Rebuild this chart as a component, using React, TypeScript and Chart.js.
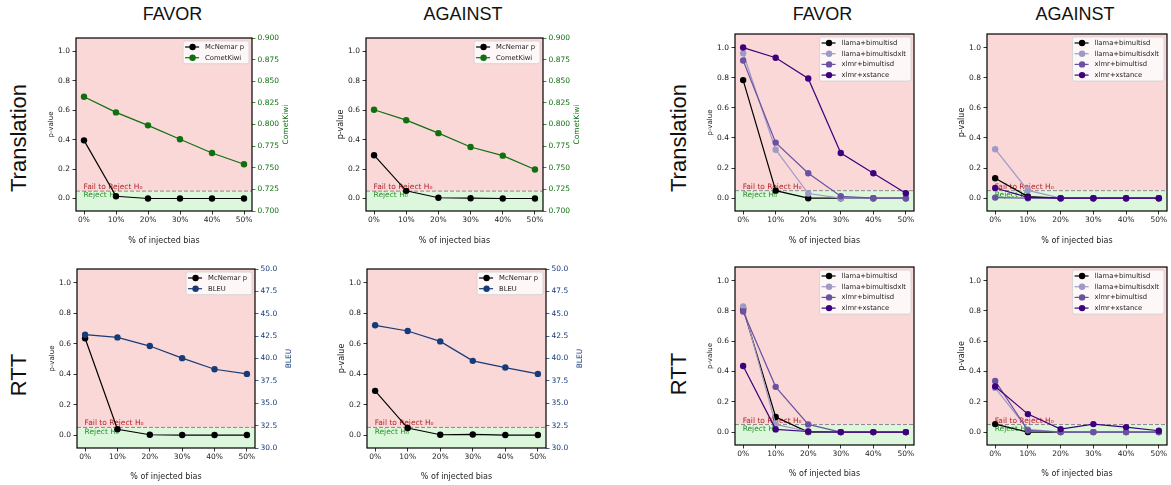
import React, { useEffect, useRef } from 'react';
import { Chart, registerables } from 'chart.js';

Chart.register(...registerables);

// ---------- data ----------
const xPercent = [0, 10, 20, 30, 40, 50];
const pTicks = [0, 0.2, 0.4, 0.6, 0.8, 1.0];
const cometTicks = [0.7, 0.725, 0.75, 0.775, 0.8, 0.825, 0.85, 0.875, 0.9];
const bleuTicks = [30, 32.5, 35, 37.5, 40, 42.5, 45, 47.5, 50];

// Translation (left block)
const trFavorMcNemar = [0.395, 0.015, 0.0, 0.0, 0.0, 0.0];
const trFavorComet = [0.832, 0.814, 0.799, 0.783, 0.767, 0.754];
const trAgainstMcNemar = [0.294, 0.052, 0.005, 0.002, 0.0, 0.0];
const trAgainstComet = [0.817, 0.805, 0.79, 0.774, 0.764, 0.748];

// RTT (left block)
const rttFavorMcNemar = [0.635, 0.038, 0.002, 0.0, 0.0, 0.0];
const rttFavorBleu = [42.66, 42.36, 41.39, 40.04, 38.8, 38.28];
const rttAgainstMcNemar = [0.29, 0.046, 0.002, 0.004, 0.0, 0.0];
const rttAgainstBleu = [43.71, 43.07, 41.91, 39.74, 38.99, 38.28];

// Model comparison (right block)
const modelNames = ['llama+bimultisd', 'llama+bimultisdxlt', 'xlmr+bimultisd', 'xlmr+xstance'];

const trFavorLlama = [0.784, 0.05, 0.0, 0.0, 0.0, 0.0];
const trFavorLlamaXlt = [0.962, 0.322, 0.031, 0.0, 0.0, 0.0];
const trFavorXlmr = [0.914, 0.369, 0.166, 0.013, 0.0, 0.0];
const trFavorXstance = [1.0, 0.932, 0.795, 0.3, 0.166, 0.033];

const trAgainstLlama = [0.132, 0.011, 0.0, 0.0, 0.0, 0.0];
const trAgainstLlamaXlt = [0.325, 0.052, 0.0, 0.0, 0.0, 0.0];
const trAgainstXlmr = [0.004, 0.0, 0.0, 0.0, 0.0, 0.0];
const trAgainstXstance = [0.068, 0.005, 0.0, 0.0, 0.0, 0.0];

const rttFavorLlama = [0.815, 0.1, 0.0, 0.0, 0.0, 0.0];
const rttFavorLlamaXlt = [0.83, 0.051, 0.004, 0.0, 0.0, 0.0];
const rttFavorXlmr = [0.796, 0.299, 0.051, 0.0, 0.0, 0.0];
const rttFavorXstance = [0.436, 0.018, 0.004, 0.0, 0.0, 0.0];

const rttAgainstLlama = [0.053, 0.0, 0.0, 0.0, 0.0, 0.0];
const rttAgainstLlamaXlt = [0.292, 0.018, 0.0, 0.0, 0.0, 0.0];
const rttAgainstXlmr = [0.338, 0.011, 0.0, 0.0, 0.0, 0.0];
const rttAgainstXstance = [0.301, 0.119, 0.02, 0.053, 0.033, 0.009];

const THRESHOLD = 0.05;

// ---------- styles ----------
const BLACK = '#000000';
const COMET_COLOR = '#0f700f';
const BLEU_COLOR = '#173b78';
const MODEL_COLORS = ['#000000', '#9e9ac8', '#6a51a3', '#3f007d'];
const PINK = 'rgb(249,216,215)';
const GREEN_BAND = 'rgb(221,247,221)';
const FONT = 'DejaVu Sans';
const Y_MIN = -0.085;
const Y_MAX = 1.09;

type Series = { label: string; values: number[]; color: string; twin?: boolean };
type Twin = { title: string; min: number; max: number; ticks: number[]; decimals: number; color: string };
type Panel = {
  key: string;
  left: number;
  top: number;
  right: number;
  bottom: number;
  series: Series[];
  twin?: Twin;
  pTitleSize: number;
  xTitleGap: number;
};

const cometTwin: Twin = { title: 'CometKiwi', min: 0.7, max: 0.9, ticks: cometTicks, decimals: 3, color: COMET_COLOR };
const bleuTwin: Twin = { title: 'BLEU', min: 30, max: 50, ticks: bleuTicks, decimals: 1, color: BLEU_COLOR };

const modelSeries = (vals: number[][]): Series[] =>
  vals.map((v, i) => ({ label: modelNames[i], values: v, color: MODEL_COLORS[i] }));

const PANELS: Panel[] = [
  {
    key: 'trFavor', left: 76, top: 38, right: 252, bottom: 211, pTitleSize: 7, xTitleGap: 30,
    series: [
      { label: 'McNemar p', values: trFavorMcNemar, color: BLACK },
      { label: 'CometKiwi', values: trFavorComet, color: COMET_COLOR, twin: true },
    ],
    twin: cometTwin,
  },
  {
    key: 'trAgainst', left: 366, top: 38, right: 543, bottom: 211, pTitleSize: 8, xTitleGap: 30,
    series: [
      { label: 'McNemar p', values: trAgainstMcNemar, color: BLACK },
      { label: 'CometKiwi', values: trAgainstComet, color: COMET_COLOR, twin: true },
    ],
    twin: cometTwin,
  },
  {
    key: 'trFavorModels', left: 735, top: 34, right: 914, bottom: 211, pTitleSize: 7, xTitleGap: 30,
    series: modelSeries([trFavorLlama, trFavorLlamaXlt, trFavorXlmr, trFavorXstance]),
  },
  {
    key: 'trAgainstModels', left: 987, top: 34, right: 1167, bottom: 211, pTitleSize: 8, xTitleGap: 30,
    series: modelSeries([trAgainstLlama, trAgainstLlamaXlt, trAgainstXlmr, trAgainstXstance]),
  },
  {
    key: 'rttFavor', left: 77, top: 269, right: 255, bottom: 448, pTitleSize: 7, xTitleGap: 29,
    series: [
      { label: 'McNemar p', values: rttFavorMcNemar, color: BLACK },
      { label: 'BLEU', values: rttFavorBleu, color: BLEU_COLOR, twin: true },
    ],
    twin: bleuTwin,
  },
  {
    key: 'rttAgainst', left: 367, top: 269, right: 546, bottom: 448, pTitleSize: 8, xTitleGap: 29,
    series: [
      { label: 'McNemar p', values: rttAgainstMcNemar, color: BLACK },
      { label: 'BLEU', values: rttAgainstBleu, color: BLEU_COLOR, twin: true },
    ],
    twin: bleuTwin,
  },
  {
    key: 'rttFavorModels', left: 735, top: 267, right: 914, bottom: 445, pTitleSize: 7, xTitleGap: 29,
    series: modelSeries([rttFavorLlama, rttFavorLlamaXlt, rttFavorXlmr, rttFavorXstance]),
  },
  {
    key: 'rttAgainstModels', left: 987, top: 267, right: 1167, bottom: 445, pTitleSize: 8, xTitleGap: 29,
    series: modelSeries([rttAgainstLlama, rttAgainstLlamaXlt, rttAgainstXlmr, rttAgainstXstance]),
  },
];

type Label = { text: string; x: number; y: number; size: number; rotate: boolean };
const LABELS: Label[] = [
  { text: 'FAVOR', x: 172.5, y: 13.5, size: 18, rotate: false },
  { text: 'AGAINST', x: 463, y: 13.5, size: 18, rotate: false },
  { text: 'FAVOR', x: 822.5, y: 13.5, size: 18, rotate: false },
  { text: 'AGAINST', x: 1075, y: 13.5, size: 18, rotate: false },
  { text: 'Translation', x: 18.5, y: 137.5, size: 22, rotate: true },
  { text: 'RTT', x: 18.5, y: 375, size: 22, rotate: true },
  { text: 'Translation', x: 678.5, y: 137.5, size: 22, rotate: true },
  { text: 'RTT', x: 678.5, y: 374, size: 22, rotate: true },
];

function geometry(p: Panel) {
  const WL = p.pTitleSize >= 8 ? 30 : 29;
  const WR = p.twin ? 40 : 0;
  const padR = p.twin ? 0 : 3;
  const padTop = 8;
  const HX = p.xTitleGap + 4.8;
  const plotW = p.right - p.left;
  const plotH = p.bottom - p.top;
  const w = WL + plotW + WR + padR;
  const rawH = padTop + plotH + HX;
  const h = Math.ceil(rawH);
  return { WL, WR, padR, padTop, HX, w, h, padBottom: h - rawH, x: p.left - WL, y: p.top - padTop };
}

function roundRect(ctx: CanvasRenderingContext2D, x: number, y: number, w: number, h: number, r: number) {
  ctx.beginPath();
  ctx.moveTo(x + r, y);
  ctx.lineTo(x + w - r, y);
  ctx.arcTo(x + w, y, x + w, y + r, r);
  ctx.lineTo(x + w, y + h - r);
  ctx.arcTo(x + w, y + h, x + w - r, y + h, r);
  ctx.lineTo(x + r, y + h);
  ctx.arcTo(x, y + h, x, y + h - r, r);
  ctx.lineTo(x, y + r);
  ctx.arcTo(x, y, x + r, y, r);
  ctx.closePath();
}

function buildConfig(p: Panel, g: ReturnType<typeof geometry>): any {
  const n = p.series.length;
  const datasets = p.series.map((s, i) => ({
    label: s.label,
    data: xPercent.map((x, k) => ({ x, y: s.values[k] })),
    borderColor: s.color,
    backgroundColor: s.color,
    pointBackgroundColor: s.color,
    pointBorderColor: s.color,
    pointBorderWidth: 0,
    pointRadius: 3.2,
    borderWidth: 1.2,
    tension: 0,
    yAxisID: s.twin ? 'y2' : 'y',
    order: n - i,
  }));

  const tickFont = { family: FONT, size: 7.5 };
  const gridOpts = (color: string) => ({
    display: true,
    drawOnChartArea: false,
    drawTicks: true,
    tickLength: 3.5,
    color,
    lineWidth: 0.8,
  });

  const scales: any = {
    x: {
      type: 'linear',
      min: -2.5,
      max: 52.5,
      afterBuildTicks: (s: any) => {
        s.ticks = xPercent.map((v) => ({ value: v }));
      },
      afterFit: (s: any) => {
        s.height = g.HX;
      },
      ticks: {
        callback: (v: any) => `${v}%`,
        font: tickFont,
        color: '#222',
        padding: 1,
        autoSkip: false,
        maxRotation: 0,
      },
      grid: gridOpts('#000'),
      border: { display: false },
      title: { display: true, text: '% of injected bias', font: { family: FONT, size: 8 }, color: '#222', padding: 0 },
    },
    y: {
      type: 'linear',
      position: 'left',
      min: Y_MIN,
      max: Y_MAX,
      afterBuildTicks: (s: any) => {
        s.ticks = pTicks.map((v) => ({ value: v }));
      },
      afterFit: (s: any) => {
        s.width = g.WL;
      },
      ticks: {
        callback: (v: any) => Number(v).toFixed(1),
        font: tickFont,
        color: '#222',
        padding: 2.5,
        autoSkip: false,
      },
      grid: gridOpts('#000'),
      border: { display: false },
      title: { display: true, text: 'p-value', font: { family: FONT, size: p.pTitleSize }, color: '#222', padding: 0 },
    },
  };

  if (p.twin) {
    const t = p.twin;
    scales.y2 = {
      type: 'linear',
      position: 'right',
      min: t.min,
      max: t.max,
      afterBuildTicks: (s: any) => {
        s.ticks = t.ticks.map((v) => ({ value: v }));
      },
      afterFit: (s: any) => {
        s.width = g.WR;
      },
      ticks: {
        callback: (v: any) => Number(v).toFixed(t.decimals),
        font: tickFont,
        color: t.color,
        padding: 2,
        autoSkip: false,
      },
      grid: gridOpts(t.color),
      border: { display: false },
      title: { display: false },
    };
  }

  const panelPlugin = {
    id: 'panelDecor',
    beforeDatasetsDraw(chart: any) {
      const ctx: CanvasRenderingContext2D = chart.ctx;
      const { left, right, top, bottom } = chart.chartArea;
      const ys = chart.scales.y;
      const xs = chart.scales.x;
      const yT = ys.getPixelForValue(THRESHOLD);
      ctx.save();
      ctx.fillStyle = PINK;
      ctx.fillRect(left, top, right - left, yT - top);
      ctx.fillStyle = GREEN_BAND;
      ctx.fillRect(left, yT, right - left, bottom - yT);
      ctx.strokeStyle = '#8a8a8a';
      ctx.lineWidth = 1;
      ctx.setLineDash([4, 2]);
      ctx.beginPath();
      ctx.moveTo(left, yT);
      ctx.lineTo(right, yT);
      ctx.stroke();
      ctx.setLineDash([]);
      const x0 = xs.getPixelForValue(0) - 0.5;
      ctx.font = `7.5px "${FONT}"`;
      ctx.textAlign = 'left';
      ctx.fillStyle = '#b3262c';
      ctx.textBaseline = 'alphabetic';
      ctx.fillText('Fail to Reject H₀', x0, yT - 2);
      ctx.fillStyle = '#2a922a';
      ctx.textBaseline = 'top';
      ctx.fillText('Reject H₀', x0, yT + 0.5);
      ctx.restore();
    },
    afterDatasetsDraw(chart: any) {
      const ctx: CanvasRenderingContext2D = chart.ctx;
      const { left, right, top, bottom } = chart.chartArea;
      ctx.save();
      // frame
      ctx.strokeStyle = '#000';
      ctx.lineWidth = 1.2;
      ctx.strokeRect(left, top, right - left, bottom - top);

      // legend
      ctx.font = `6.8px "${FONT}"`;
      let maxW = 0;
      p.series.forEach((s) => {
        maxW = Math.max(maxW, ctx.measureText(s.label).width);
      });
      const rowH = 10.7;
      const boxW = 22 + maxW + 5;
      const boxH = 12 + (n - 1) * rowH;
      const bx = right - 3 - boxW;
      const by = top + 3;
      roundRect(ctx, bx, by, boxW, boxH, 2);
      ctx.fillStyle = 'rgba(255,255,255,0.8)';
      ctx.fill();
      ctx.strokeStyle = '#d0d0d0';
      ctx.lineWidth = 0.8;
      ctx.stroke();
      p.series.forEach((s, i) => {
        const cy = by + 6 + i * rowH;
        ctx.strokeStyle = s.color;
        ctx.lineWidth = 1.2;
        ctx.beginPath();
        ctx.moveTo(bx + 2, cy);
        ctx.lineTo(bx + 16, cy);
        ctx.stroke();
        ctx.fillStyle = s.color;
        ctx.beginPath();
        ctx.arc(bx + 9.5, cy, 3.2, 0, Math.PI * 2);
        ctx.fill();
        ctx.fillStyle = '#222';
        ctx.textAlign = 'left';
        ctx.textBaseline = 'middle';
        ctx.fillText(s.label, bx + 22, cy + 0.3);
      });

      // right-axis title (reads bottom-to-top)
      if (p.twin) {
        ctx.translate(right + 34, (top + bottom) / 2);
        ctx.rotate(-Math.PI / 2);
        ctx.font = `7.5px "${FONT}"`;
        ctx.fillStyle = p.twin.color;
        ctx.textAlign = 'center';
        ctx.textBaseline = 'middle';
        ctx.fillText(p.twin.title, 0, 0);
      }
      ctx.restore();
    },
  };

  return {
    type: 'line',
    data: { datasets },
    options: {
      responsive: false,
      maintainAspectRatio: false,
      animation: false,
      events: [],
      layout: {
        autoPadding: false,
        padding: { top: g.padTop, left: 0, right: g.padR, bottom: g.padBottom },
      },
      plugins: {
        legend: { display: false },
        tooltip: { enabled: false },
        title: { display: false },
      },
      scales,
    },
    plugins: [panelPlugin],
  };
}

function PanelChart({ panel }: { panel: Panel }) {
  const ref = useRef<HTMLCanvasElement>(null);
  const g = geometry(panel);
  useEffect(() => {
    if (!ref.current) return;
    const chart = new Chart(ref.current, buildConfig(panel, g));
    return () => chart.destroy();
  }, []);
  return (
    <canvas
      ref={ref}
      width={g.w}
      height={g.h}
      style={{ position: 'absolute', left: g.x, top: g.y, width: g.w, height: g.h }}
    />
  );
}

export default function App() {
  return (
    <div
      style={{
        position: 'fixed',
        left: 0,
        top: 0,
        width: 1171,
        height: 485,
        background: '#fff',
        overflow: 'hidden',
      }}
    >
      {PANELS.map((p) => (
        <PanelChart key={p.key} panel={p} />
      ))}
      {LABELS.map((l, i) => (
        <div
          key={i}
          style={{
            position: 'absolute',
            left: l.x,
            top: l.y,
            transform: `translate(-50%, -50%)${l.rotate ? ' rotate(-90deg)' : ''}`,
            fontFamily: '"Liberation Sans", Arial, sans-serif',
            fontSize: l.size,
            lineHeight: 1,
            whiteSpace: 'nowrap',
            color: '#111',
          }}
        >
          {l.text}
        </div>
      ))}
    </div>
  );
}
